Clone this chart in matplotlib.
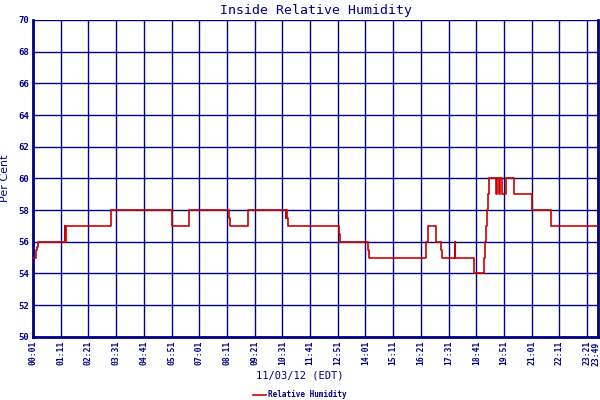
import matplotlib
matplotlib.use("Agg")
from matplotlib import pyplot as plt

# minutes since midnight where the reading changes, and the reading
mins = [1, 9, 11, 13, 82, 83, 85, 199, 352, 353, 394, 497, 499, 544, 545,
        640, 641, 643, 645, 774, 777, 847, 850, 993, 995, 999, 1018, 1020,
        1032, 1034, 1067, 1068, 1114, 1140, 1142, 1145, 1147, 1150, 1152,
        1154, 1171, 1174, 1178, 1181, 1185, 1195, 1216, 1261,
        1263, 1310, 1429]
rh = [55, 55.5, 55.7, 56, 57, 56, 57, 58, 57.5, 57, 58, 57.5, 57, 57.5, 58,
      57.5, 58, 57.5, 57, 56.5, 56, 55.5, 55, 55.5, 56, 57, 56.5, 56,
      55.5, 55, 56, 55, 54, 55, 56, 57, 58, 59, 59.5,
      60, 59, 60, 59, 60, 59, 60, 59, 58.5,
      58, 57, 57]

tick_mins = list(range(1, 1402, 70)) + [1429]
tick_labels = ["%02d:%02d" % (m // 60, m % 60) for m in tick_mins]
yticks = list(range(50, 71, 2))

navy = "#000080"
fnt = "DejaVu Sans Mono"

fig = plt.figure(figsize=(6, 4), dpi=100)
ax = fig.add_axes([0.055, 0.158, 0.942, 0.792])

for t in tick_mins:
    ax.axvline(t, color=navy, lw=1.0, zorder=1)
for y in yticks:
    ax.axhline(y, color=navy, lw=1.0, zorder=1)

ax.step(mins, rh, where="post", color="#cc0000", lw=1.2, zorder=3,
        label="Relative Humidity")

ax.set_xlim(1, 1429)
ax.set_ylim(50, 70)
ax.set_xticks(tick_mins)
# last label drawn separately so it stays inside the picture
ax.set_xticklabels(tick_labels[:-1] + [""], rotation=90, fontsize=5.8,
                   family=fnt, fontweight="bold", color=navy)
fig.text(596 / 600, 1 - 342 / 400, tick_labels[-1], rotation=90, ha="center",
         va="top", fontsize=5.8, family=fnt, fontweight="bold", color=navy)
ax.set_yticks(yticks)
ax.set_yticklabels([str(y) for y in yticks], fontsize=6.5, family=fnt,
                   fontweight="bold", color=navy)
ax.tick_params(length=0, pad=3)
for s in ["left", "right", "bottom"]:
    ax.spines[s].set_color(navy)
    ax.spines[s].set_linewidth(2)
ax.spines["top"].set_visible(False)

ax.set_title("Inside Relative Humidity", fontsize=9.5, family=fnt,
             color=navy, pad=4)
ax.set_ylabel("Per Cent", fontsize=8, color=navy, labelpad=6)
fig.text(0.5, 0.055, "11/03/12 (EDT)", ha="center", fontsize=7.5,
         color=navy, family=fnt)
fig.legend(loc="center", bbox_to_anchor=(0.5, 0.013), frameon=False,
           prop={"family": fnt, "size": 5.5, "weight": "bold"},
           handlelength=1.6, handletextpad=0.3, borderpad=0)
for tx in fig.legends[0].get_texts():
    tx.set_color(navy)

fig.savefig("out.png", dpi=100)
